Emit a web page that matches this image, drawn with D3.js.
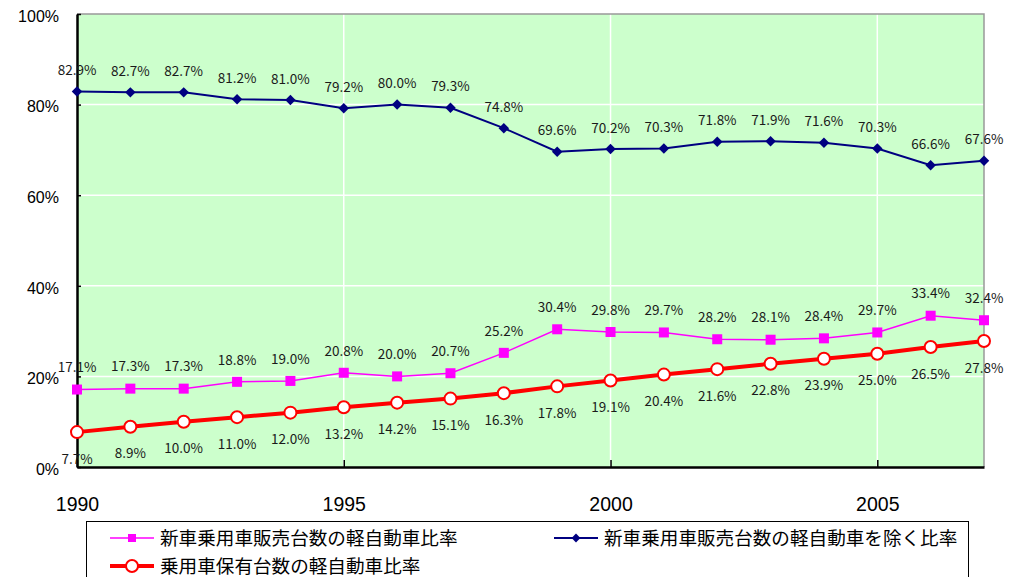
<!DOCTYPE html>
<html>
<head>
<meta charset="utf-8">
<script src="https://cdn.jsdelivr.net/npm/d3@7"></script>
<style>
  body { margin: 0; background: #fff; }
  svg text { font-family: "Liberation Sans", Arial, sans-serif; }
</style>
</head>
<body>
<svg width="1022" height="577"></svg>
<script>
var years = [1990,1991,1992,1993,1994,1995,1996,1997,1998,1999,2000,2001,2002,2003,2004,2005,2006,2007];
var exclKei = [82.9,82.7,82.7,81.2,81.0,79.2,80.0,79.3,74.8,69.6,70.2,70.3,71.8,71.9,71.6,70.3,66.6,67.6];
var newKei = [17.1,17.3,17.3,18.8,19.0,20.8,20.0,20.7,25.2,30.4,29.8,29.7,28.2,28.1,28.4,29.7,33.4,32.4];
var ownKei = [7.7,8.9,10.0,11.0,12.0,13.2,14.2,15.1,16.3,17.8,19.1,20.4,21.6,22.8,23.9,25.0,26.5,27.8];
var yTicks = [0,20,40,60,80,100];
var xTicks = [1990,1995,2000,2005];
var names = ["新車乗用車販売台数の軽自動車比率", "新車乗用車販売台数の軽自動車を除く比率", "乗用車保有台数の軽自動車比率"];

var svg = d3.select("svg");
var m = {left: 77, right: 984, top: 14, bottom: 467};

var x = d3.scaleLinear().domain([1990, 2007]).range([m.left, m.right]);
var y = d3.scaleLinear().domain([0, 100]).range([m.bottom, m.top]);

// plot background
svg.append("rect")
  .attr("x", m.left).attr("y", m.top)
  .attr("width", m.right - m.left).attr("height", m.bottom - m.top)
  .style("fill", "#ccffcc");

// grid
svg.append("g").selectAll("line")
  .data(yTicks.filter(d => d > 0 && d < 100))
  .enter().append("line")
  .attr("x1", m.left).attr("x2", m.right)
  .attr("y1", d => y(d)).attr("y2", d => y(d))
  .style("stroke", "#fff").style("stroke-width", 1.5);

svg.append("g").selectAll("line")
  .data(xTicks.filter(d => d > 1990))
  .enter().append("line")
  .attr("x1", d => x(d)).attr("x2", d => x(d))
  .attr("y1", m.top).attr("y2", m.bottom)
  .style("stroke", "#fff").style("stroke-width", 1.5);

// frame top/right gray
svg.append("path")
  .attr("d", "M" + m.left + "," + m.top + "H" + m.right + "V" + m.bottom)
  .style("fill", "none").style("stroke", "#999").style("stroke-width", 1.5);

// y axis
var yAxis = d3.axisLeft(y).tickValues(yTicks).tickSize(-4).tickSizeOuter(0).tickPadding(18).tickFormat(d => d + "%");
var yg = svg.append("g").attr("transform", "translate(" + m.left + ",0)").call(yAxis);
yg.select(".domain").style("stroke", "#000").style("stroke-width", 2.5);
yg.selectAll(".tick line").style("stroke", "#000").style("stroke-width", 1.5);
yg.selectAll(".tick text").style("font-size", "16px").style("fill", "#000")
  .attr("dy", "0.45em");

// x axis
var xAxis = d3.axisBottom(x).tickValues(xTicks).tickSize(-7).tickSizeOuter(0).tickPadding(30).tickFormat(d3.format("d"));
var xg = svg.append("g").attr("transform", "translate(0," + m.bottom + ")").call(xAxis);
xg.select(".domain").style("stroke", "#000").style("stroke-width", 2.5);
xg.selectAll(".tick line").style("stroke", "#000").style("stroke-width", 1.5);
xg.selectAll(".tick text").style("font-size", "19.5px").style("fill", "#000");

var line = d3.line().x((d, i) => x(years[i])).y(d => y(d));

// red line (own)
svg.append("path").datum(ownKei).attr("d", line)
  .style("fill", "none").style("stroke", "#ff0000").style("stroke-width", 4);
// magenta
svg.append("path").datum(newKei).attr("d", line)
  .style("fill", "none").style("stroke", "#ff00ff").style("stroke-width", 1.5);
// navy
svg.append("path").datum(exclKei).attr("d", line)
  .style("fill", "none").style("stroke", "#000080").style("stroke-width", 2);

svg.append("g").selectAll("rect").data(newKei).enter().append("rect")
  .attr("x", (d, i) => x(years[i]) - 5).attr("y", d => y(d) - 5)
  .attr("width", 10).attr("height", 10).style("fill", "#ff00ff");

svg.append("g").selectAll("path").data(exclKei).enter().append("path")
  .attr("d", d3.symbol().type(d3.symbolDiamond2).size(70))
  .attr("transform", (d, i) => "translate(" + x(years[i]) + "," + y(d) + ")")
  .style("fill", "#000080");

svg.append("g").selectAll("circle").data(ownKei).enter().append("circle")
  .attr("cx", (d, i) => x(years[i])).attr("cy", d => y(d)).attr("r", 6)
  .style("fill", "#fff").style("stroke", "#ff0000").style("stroke-width", 2);

// data labels
function labels(data, dy) {
  svg.append("g").selectAll("text").data(data).enter().append("text")
    .attr("x", (d, i) => x(years[i]))
    .attr("y", d => y(d) + dy)
    .attr("text-anchor", "middle")
    .attr("dy", "0.35em")
    .style("font-family", "'Noto Sans CJK JP', sans-serif")
    .style("font-size", "13.5px").style("fill", "#1a1a1a")
    .text(d => d.toFixed(1) + "%");
}
labels(exclKei, -21);
labels(newKei, -22);
labels(ownKei, 27);

// legend
var lg = svg.append("g");
lg.append("rect").attr("x", 86.5).attr("y", 521.5).attr("width", 882).attr("height", 70)
  .style("fill", "#fff").style("stroke", "#000").style("stroke-width", 1);

var items = [
  {name: names[0], x: 110, y: 538, color: "#ff00ff", w: 1.5, mark: "square"},
  {name: names[1], x: 554, y: 538, color: "#000080", w: 2, mark: "diamond"},
  {name: names[2], x: 110, y: 566, color: "#ff0000", w: 4, mark: "circle"}
];
items.forEach(function(it) {
  lg.append("line").attr("x1", it.x).attr("x2", it.x + 44).attr("y1", it.y).attr("y2", it.y)
    .style("stroke", it.color).style("stroke-width", it.w);
  var cx = it.x + 22;
  if (it.mark == "square") {
    lg.append("rect").attr("x", cx - 4).attr("y", it.y - 4).attr("width", 8).attr("height", 8).style("fill", it.color);
  } else if (it.mark == "diamond") {
    lg.append("path").attr("d", d3.symbol().type(d3.symbolDiamond2).size(50))
      .attr("transform", "translate(" + cx + "," + it.y + ")").style("fill", it.color);
  } else {
    lg.append("circle").attr("cx", cx).attr("cy", it.y).attr("r", 6)
      .style("fill", "#fff").style("stroke", it.color).style("stroke-width", 2);
  }
  lg.append("text").attr("x", it.x + 50).attr("y", it.y).attr("dy", "0.36em")
    .style("font-family", "'Noto Sans CJK JP', sans-serif")
    .style("font-size", "18.6px").style("fill", "#000")
    .text(it.name);
});
</script>
</body>
</html>
